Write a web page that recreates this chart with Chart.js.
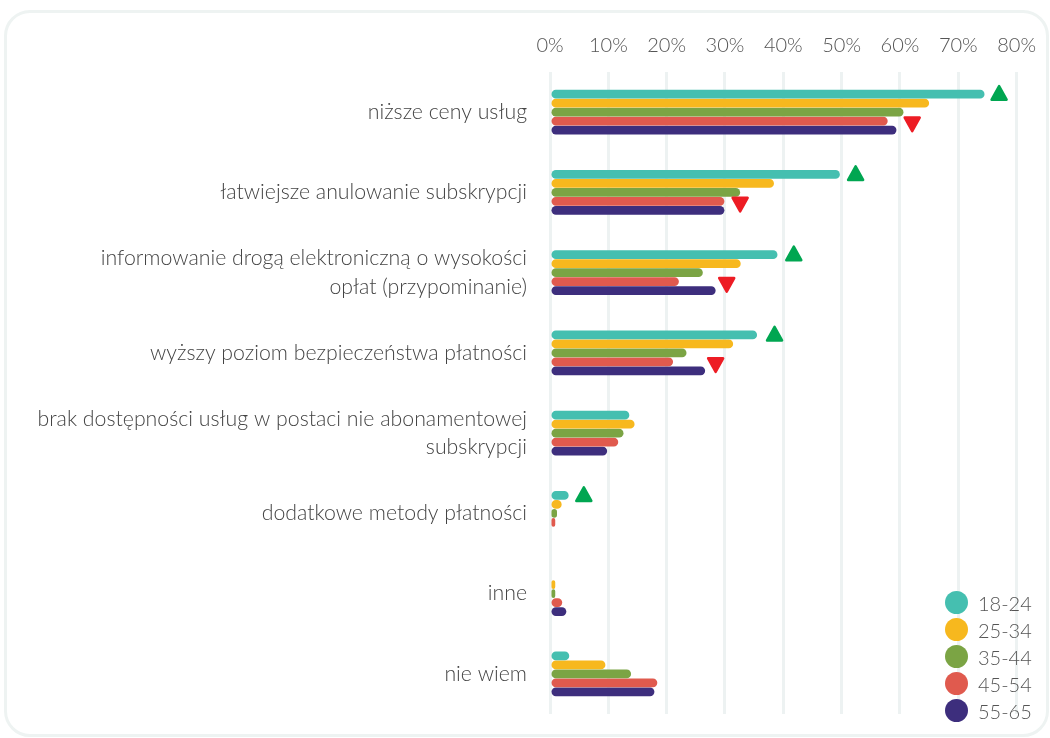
<!DOCTYPE html>
<html>
<head>
<meta charset="utf-8">
<script src="https://cdn.jsdelivr.net/npm/chart.js@4.4.0/dist/chart.umd.min.js"></script>
<style>
  body { margin: 0; background: #fff; font-family: Lato, "Open Sans", sans-serif; overflow: hidden; }
  #card {
    position: absolute; left: 4px; top: 10px; width: 1045px; height: 727px;
    border: 3px solid #EEF3F2; border-radius: 26px; box-sizing: border-box;
  }
  #chart { position: absolute; left: 0; top: 0; }
  #legend { position: absolute; left: 945px; top: 589px; }
  .item { height: 27px; display: flex; align-items: center; font-size: 20px; font-weight: 300; color: #555; }
  .dot { width: 23px; height: 23px; border-radius: 50%; margin-right: 10px; }
</style>
</head>
<body>
<div id="card"></div>
<canvas id="chart" width="1050" height="738"></canvas>
<div id="legend"></div>
<script>
// categories (y axis)
const categories = [
  'niższe ceny usług',
  'łatwiejsze anulowanie subskrypcji',
  ['informowanie drogą elektroniczną o wysokości', 'opłat (przypominanie)'],
  'wyższy poziom bezpieczeństwa płatności',
  ['brak dostępności usług w postaci nie abonamentowej', 'subskrypcji'],
  'dodatkowe metody płatności',
  'inne',
  'nie wiem'
];

// age groups
const groups = ['18-24', '25-34', '35-44', '45-54', '55-65'];
const colors = ['#45BFB0', '#F7B81E', '#7BA444', '#E05A4E', '#3D2E7D'];

// values in %
const age18_24 = [74.5, 49.7, 39.0, 35.5, 13.6, 3.2, 0, 3.3];
const age25_34 = [65.0, 38.4, 32.7, 31.4, 14.5, 2.0, 0.9, 9.5];
const age35_44 = [60.6, 32.6, 26.2, 23.4, 12.6, 1.2, 0.9, 13.9];
const age45_54 = [57.9, 29.9, 22.1, 21.1, 11.7, 0.9, 2.1, 18.4];
const age55_65 = [59.4, 29.9, 28.4, 26.6, 9.8, 0, 2.8, 17.9];

// triangle markers (x position in %)
const upMarkers = [77.0, 52.4, 41.8, 38.5, null, 5.8, null, null];
const downMarkers = [62.1, 32.6, 30.3, 28.4, null, null, null, null];

const xTicks = [0, 10, 20, 30, 40, 50, 60, 70, 80];

const series = [age18_24, age25_34, age35_44, age45_54, age55_65];

function triangle(ctx, cx, cy, up, color) {
  const w = 7.5, h = 6.5;
  ctx.save();
  ctx.fillStyle = color;
  ctx.strokeStyle = color;
  ctx.lineWidth = 2.5;
  ctx.lineJoin = 'round';
  ctx.beginPath();
  if (up) {
    ctx.moveTo(cx, cy - h - 0.5);
    ctx.lineTo(cx + w, cy + h);
    ctx.lineTo(cx - w, cy + h);
  } else {
    ctx.moveTo(cx, cy + h + 0.5);
    ctx.lineTo(cx + w, cy - h);
    ctx.lineTo(cx - w, cy - h);
  }
  ctx.closePath();
  ctx.fill();
  ctx.stroke();
  ctx.restore();
}

const markerPlugin = {
  id: 'markers',
  afterDatasetsDraw(chart) {
    const ctx = chart.ctx;
    const xs = chart.scales.x;
    const teal = chart.getDatasetMeta(0).data;
    const red = chart.getDatasetMeta(3).data;
    upMarkers.forEach((v, i) => {
      if (v == null) return;
      triangle(ctx, xs.getPixelForValue(v), teal[i].y - 1, true, '#00A651');
    });
    downMarkers.forEach((v, i) => {
      if (v == null) return;
      triangle(ctx, xs.getPixelForValue(v), red[i].y + 3, false, '#ED1C24');
    });
  }
};

const data = {
  labels: categories,
  datasets: series.map((vals, i) => ({
    label: groups[i],
    data: vals,
    backgroundColor: colors[i],
    borderWidth: 0,
    borderRadius: 5,
    borderSkipped: false,
    barPercentage: 0.97,
    categoryPercentage: 0.56
  }))
};

const config = {
  type: 'bar',
  data: data,
  options: {
    indexAxis: 'y',
    responsive: false,
    animation: false,
    layout: { padding: { top: 20, right: 33, bottom: 24, left: 0 } },
    plugins: {
      legend: { display: false },
      tooltip: { enabled: false }
    },
    scales: {
      x: {
        position: 'top',
        min: 0,
        max: 80,
        afterBuildTicks: s => { s.ticks = xTicks.map(v => ({ value: v })); },
        ticks: {
          callback: v => v + '%',
          font: { family: 'Lato', size: 20, weight: 300 },
          color: '#555',
          padding: 14,
          maxRotation: 0
        },
        grid: { color: '#EDF2F2', lineWidth: 3, drawTicks: false },
        border: { display: false }
      },
      y: {
        afterFit: s => {
          s.width = 550;
          s.paddingTop = 0;
          s.paddingBottom = 0;
        },
        ticks: {
          autoSkip: false,
          font: { family: 'Lato', size: 21.3, weight: 300, lineHeight: 1.33 },
          color: '#444',
          padding: 23
        },
        grid: { display: false, drawTicks: false },
        border: { display: false }
      }
    }
  },
  plugins: [markerPlugin]
};

new Chart(document.getElementById('chart').getContext('2d'), config);

// legend
const legend = document.getElementById('legend');
groups.forEach((g, i) => {
  const item = document.createElement('div');
  item.className = 'item';
  item.innerHTML = '<span class="dot" style="background:' + colors[i] + '"></span>' + g;
  legend.appendChild(item);
});
</script>
</body>
</html>
